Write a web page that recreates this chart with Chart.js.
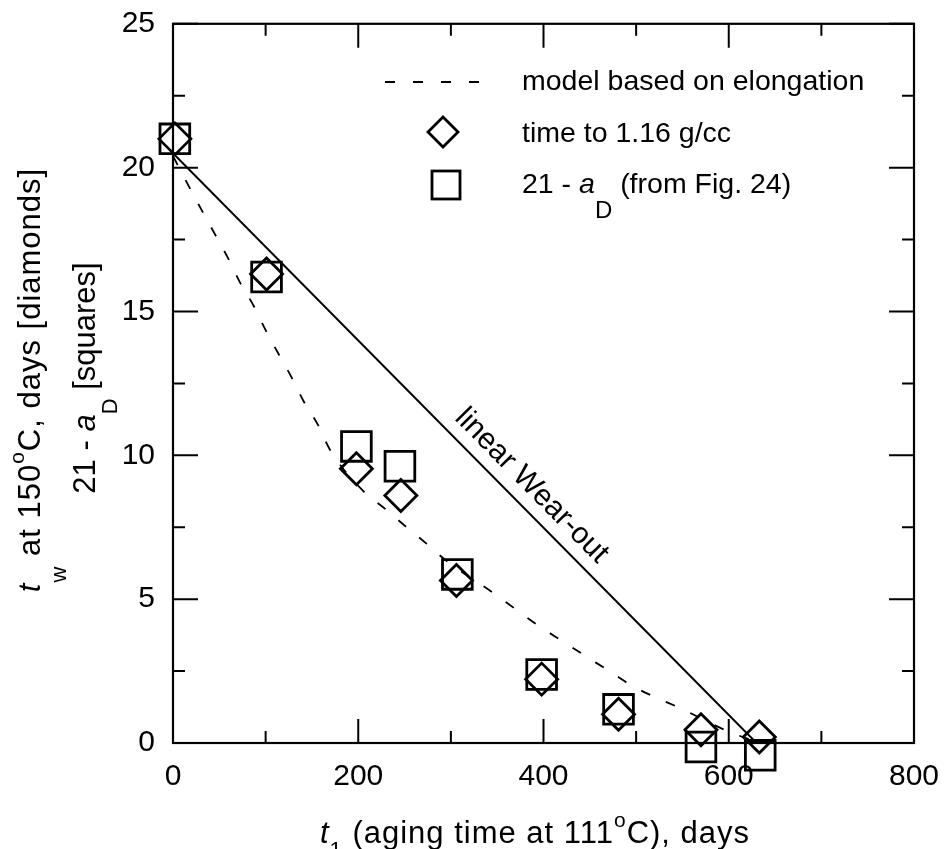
<!DOCTYPE html>
<html>
<head>
<meta charset="utf-8">
<script src="https://cdn.jsdelivr.net/npm/chart.js@4.4.0/dist/chart.umd.min.js"></script>
<style>
  html, body { margin: 0; padding: 0; background: #fff; }
</style>
</head>
<body>
<canvas id="myChart" width="945" height="849"></canvas>
<script>
// time to 1.16 g/cc (diamonds), t1 in days at 111C
var diamondX = [2, 101, 198, 246, 306, 398, 481, 570, 633];
var diamondY = [21.0, 16.3, 9.53, 8.6, 5.65, 2.22, 1.0, 0.46, 0.21];

// 21 - aD from Fig. 24 (squares)
var squareX = [2, 101, 198, 245, 307, 398, 481, 570, 634];
var squareY = [21.0, 16.2, 10.31, 9.62, 5.86, 2.38, 1.17, -0.14, -0.43];

// model based on elongation (dashed)
var modelX = [0, 17, 31, 45, 59, 72, 87, 100, 114, 128, 141, 157, 169, 205, 229, 250, 274, 295, 346, 369, 394, 419, 444, 470, 495, 520, 547, 601, 625];
var modelY = [20.4, 19.36, 18.52, 17.7, 16.88, 16.03, 15.2, 14.35, 13.52, 12.71, 11.88, 11.03, 10.22, 8.77, 8.14, 7.56, 6.92, 6.34, 5.21, 4.67, 4.09, 3.57, 3.05, 2.52, 2.0, 1.6, 1.22, 0.38, 0.1];

// linear wear-out (solid)
var wearX = [0, 630];
var wearY = [20.5, 0];

var xTicks = [0, 200, 400, 600, 800];
var yTicks = [0, 5, 10, 15, 20, 25];

var FONT = '"Liberation Sans", Arial, Helvetica, sans-serif';

function pts(xs, ys) {
  return xs.map(function (x, i) { return { x: x, y: ys[i] }; });
}

function partFont(kind, opt) {
  var size = kind === 'sub' ? opt.subSize : kind === 'sup' ? opt.supSize : opt.size;
  return (kind === 'i' ? 'italic ' : '') + size + 'px ' + FONT;
}

// text with italic / subscript / superscript pieces
function richText(ctx, parts, x, y, opt) {
  ctx.letterSpacing = opt.spacing || '0px';
  var total = 0;
  parts.forEach(function (p) {
    ctx.font = partFont(p[1], opt);
    total += ctx.measureText(p[0]).width;
  });
  var cx = opt.align === 'left' ? x : x - total / 2;
  ctx.textAlign = 'left';
  ctx.textBaseline = 'alphabetic';
  parts.forEach(function (p) {
    ctx.font = partFont(p[1], opt);
    var dy = 0;
    if (p[1] === 'sub') dy = opt.subDy;
    if (p[1] === 'sup') dy = -opt.supDy;
    ctx.fillText(p[0], cx, y + dy);
    cx += ctx.measureText(p[0]).width;
  });
  ctx.letterSpacing = '0px';
}

function diamond(ctx, x, y, r) {
  ctx.beginPath();
  ctx.moveTo(x, y - r);
  ctx.lineTo(x + r, y);
  ctx.lineTo(x, y + r);
  ctx.lineTo(x - r, y);
  ctx.closePath();
  ctx.stroke();
}

var framePlugin = {
  id: 'frame',
  afterDraw: function (chart) {
    var ctx = chart.ctx;
    var a = chart.chartArea;
    var sx = chart.scales.x, sy = chart.scales.y;
    ctx.save();
    ctx.strokeStyle = '#000';
    ctx.fillStyle = '#000';

    // box
    ctx.lineWidth = 2.2;
    ctx.strokeRect(a.left, a.top, a.right - a.left, a.bottom - a.top);

    // inward ticks, major + minor, all four sides
    ctx.lineWidth = 2;
    ctx.beginPath();
    xTicks.forEach(function (v, i) {
      var px = sx.getPixelForValue(v);
      ctx.moveTo(px, a.bottom); ctx.lineTo(px, a.bottom - 24);
      ctx.moveTo(px, a.top); ctx.lineTo(px, a.top + 24);
      if (i < xTicks.length - 1) {
        var mx = sx.getPixelForValue((v + xTicks[i + 1]) / 2);
        ctx.moveTo(mx, a.bottom); ctx.lineTo(mx, a.bottom - 12);
        ctx.moveTo(mx, a.top); ctx.lineTo(mx, a.top + 12);
      }
    });
    yTicks.forEach(function (v, i) {
      var py = sy.getPixelForValue(v);
      ctx.moveTo(a.left, py); ctx.lineTo(a.left + 25, py);
      ctx.moveTo(a.right, py); ctx.lineTo(a.right - 25, py);
      if (i < yTicks.length - 1) {
        var my = sy.getPixelForValue((v + yTicks[i + 1]) / 2);
        ctx.moveTo(a.left, my); ctx.lineTo(a.left + 12, my);
        ctx.moveTo(a.right, my); ctx.lineTo(a.right - 12, my);
      }
    });
    ctx.stroke();

    // label along the wear-out line
    var p0x = sx.getPixelForValue(wearX[0]), p0y = sy.getPixelForValue(wearY[0]);
    var p1x = sx.getPixelForValue(wearX[1]), p1y = sy.getPixelForValue(wearY[1]);
    var ang = Math.atan2(p1y - p0y, p1x - p0x);
    var f = 371 / wearX[1];
    var lx = p0x + (p1x - p0x) * f + Math.sin(ang) * 21;
    var ly = p0y + (p1y - p0y) * f - Math.cos(ang) * 21;
    ctx.save();
    ctx.translate(lx, ly);
    ctx.rotate(ang);
    ctx.font = '30px ' + FONT;
    ctx.textAlign = 'center';
    ctx.textBaseline = 'middle';
    ctx.fillText('linear Wear-out', 0, 0);
    ctx.restore();

    // legend
    ctx.lineWidth = 1.8;
    ctx.setLineDash([10, 18]);
    ctx.beginPath();
    ctx.moveTo(385, 82); ctx.lineTo(482, 82);
    ctx.stroke();
    ctx.setLineDash([]);
    ctx.lineWidth = 2.8;
    diamond(ctx, 443, 132, 15);
    ctx.strokeRect(432, 171, 28, 28);

    var lopt = { size: 28.5, subSize: 24, subDy: 25, supSize: 20, supDy: 15, align: 'left' };
    richText(ctx, [['model based on elongation', 'n']], 522, 90, lopt);
    richText(ctx, [['time to 1.16 g/cc', 'n']], 522, 142, lopt);
    richText(ctx, [['21 - ', 'n'], ['a', 'i'], ['D', 'sub'], [' (from Fig. 24)', 'n']], 522, 193, lopt);

    // x axis title
    richText(ctx, [['t', 'i'], ['1', 'sub'], [' (aging time at 111', 'n'], ['o', 'sup'], ['C), days', 'n']],
      535, 843, { size: 31, subSize: 22, subDy: 14, supSize: 21, supDy: 16, spacing: '1px' });

    // y axis titles (two lines)
    ctx.save();
    ctx.translate(40, 380);
    ctx.rotate(-Math.PI / 2);
    richText(ctx, [['t', 'i'], ['w', 'sub'], [' at 150', 'n'], ['o', 'sup'], ['C, days [diamonds]', 'n']], 0, 0,
      { size: 31, subSize: 22, subDy: 26, supSize: 21, supDy: 16, spacing: '1px' });
    ctx.restore();
    ctx.save();
    ctx.translate(95, 378);
    ctx.rotate(-Math.PI / 2);
    richText(ctx, [['21 - ', 'n'], ['a', 'i'], ['D', 'sub'], [' [squares]', 'n']], 0, 0,
      { size: 31, subSize: 22, subDy: 22, supSize: 21, supDy: 16 });
    ctx.restore();

    ctx.restore();
  }
};

var ctx = document.getElementById('myChart');
new Chart(ctx, {
  type: 'scatter',
  data: {
    datasets: [
      {
        label: 'model based on elongation',
        data: pts(modelX, modelY),
        showLine: true,
        borderColor: '#000',
        borderWidth: 1.8,
        borderDash: [10, 17],
        pointRadius: 0,
        cubicInterpolationMode: 'monotone',
        fill: false,
        clip: false
      },
      {
        label: 'linear Wear-out',
        data: pts(wearX, wearY),
        showLine: true,
        borderColor: '#000',
        borderWidth: 1.9,
        pointRadius: 0,
        fill: false,
        clip: false
      },
      {
        label: 'time to 1.16 g/cc',
        data: pts(diamondX, diamondY),
        showLine: false,
        pointStyle: 'rectRot',
        pointRadius: 16,
        borderWidth: 2.8,
        borderColor: '#000',
        backgroundColor: 'rgba(0,0,0,0)',
        clip: false
      },
      {
        label: '21 - aD (from Fig. 24)',
        data: pts(squareX, squareY),
        showLine: false,
        pointStyle: 'rect',
        pointRadius: 21,
        borderWidth: 2.8,
        borderColor: '#000',
        backgroundColor: 'rgba(0,0,0,0)',
        clip: false
      }
    ]
  },
  options: {
    responsive: false,
    animation: false,
    layout: { padding: { top: 23, right: 31, left: 0, bottom: 0 } },
    plugins: {
      legend: { display: false },
      tooltip: { enabled: false }
    },
    scales: {
      x: {
        type: 'linear',
        min: 0,
        max: 800,
        afterBuildTicks: function (axis) { axis.ticks = xTicks.map(function (v) { return { value: v }; }); },
        afterFit: function (s) { s.height = 106; s.paddingLeft = 0; s.paddingRight = 0; },
        grid: { display: false },
        border: { display: false },
        ticks: { color: '#000', font: { size: 30, family: FONT }, padding: 8, maxRotation: 0 }
      },
      y: {
        type: 'linear',
        min: 0,
        max: 25,
        afterBuildTicks: function (axis) { axis.ticks = yTicks.map(function (v) { return { value: v }; }); },
        afterFit: function (s) { s.width = 173; s.paddingTop = 0; s.paddingBottom = 0; },
        grid: { display: false },
        border: { display: false },
        ticks: { color: '#000', font: { size: 30, family: FONT }, padding: 10 }
      }
    }
  },
  plugins: [framePlugin]
});
</script>
</body>
</html>
